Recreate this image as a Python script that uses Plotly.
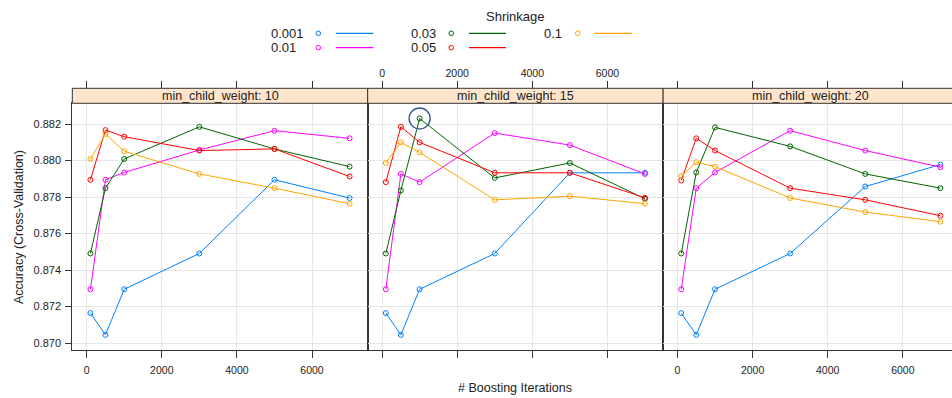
import plotly.graph_objects as go

# Tuning grid: boosting iterations x shrinkage, one panel per min_child_weight
iterations = [100, 500, 1000, 3000, 5000, 7000]
shrinkage = [0.001, 0.01, 0.03, 0.05, 0.1]
min_child_weight = [10, 15, 20]

# Cross-validated accuracy, one row per shrinkage value
acc_mcw10 = [
    [0.87164, 0.87045, 0.87295, 0.87491, 0.87895, 0.87795],
    [0.87295, 0.87895, 0.87935, 0.88058, 0.88164, 0.88122],
    [0.87491, 0.87849, 0.88009, 0.88185, 0.88064, 0.87967],
    [0.87895, 0.88167, 0.88131, 0.88055, 0.88064, 0.87913],
    [0.88009, 0.88145, 0.88051, 0.87927, 0.87849, 0.87764],
]
acc_mcw15 = [
    [0.87164, 0.87045, 0.87295, 0.87491, 0.87933, 0.87933],
    [0.87295, 0.87927, 0.87882, 0.88151, 0.88085, 0.87927],
    [0.87491, 0.87836, 0.88231, 0.87905, 0.87987, 0.87791],
    [0.87882, 0.88185, 0.88100, 0.87933, 0.87933, 0.87796],
    [0.87987, 0.88100, 0.88045, 0.87785, 0.87805, 0.87764],
]
acc_mcw20 = [
    [0.87164, 0.87045, 0.87295, 0.87491, 0.87858, 0.87978],
    [0.87295, 0.87849, 0.87935, 0.88164, 0.88055, 0.87964],
    [0.87491, 0.87935, 0.88182, 0.88078, 0.87927, 0.87849],
    [0.87891, 0.88122, 0.88055, 0.87849, 0.87785, 0.87698],
    [0.87915, 0.87991, 0.87967, 0.87795, 0.87718, 0.87665],
]
panels = [acc_mcw10, acc_mcw15, acc_mcw20]

x_ticks = [0, 2000, 4000, 6000]
y_ticks = [0.870, 0.872, 0.874, 0.876, 0.878, 0.880, 0.882]

colors = ["#0080ff", "#ff00ff", "#006400", "#ff0000", "#ffa500"]
strip_fill = "#ffe5cc"
frame = "#333333"
grid = "#e6e6e6"
text_col = "#222222"
FONT = "Liberation Sans, Arial, sans-serif"

W, H = 952, 398


def fx(px):
    return px / W


def fy(px):
    return 1 - px / H


panel_left, panel_w = 72.3, 295.4
plot_top, plot_bottom, strip_top = 103.3, 350.0, 88.3

# Axis limits padded by 7% of the data span on each side
xpad = 0.07 * (max(iterations) - min(iterations))
x_range = [min(iterations) - xpad, max(iterations) + xpad]
all_vals = [v for p in panels for row in p for v in row]
ypad = 0.07 * (max(all_vals) - min(all_vals))
y_range = [min(all_vals) - ypad, max(all_vals) + ypad]

fig = go.Figure()
layout = dict(
    width=W, height=H, margin=dict(l=0, r=0, t=0, b=0), autosize=False,
    paper_bgcolor="white", plot_bgcolor="white", showlegend=False,
    font=dict(family=FONT, color=text_col),
)
shapes, annotations = [], []

for i, (mcw, acc) in enumerate(zip(min_child_weight, panels)):
    n = i + 1
    left = panel_left + i * panel_w
    right = left + panel_w
    vis_right = min(right, W)
    frac = (vis_right - left) / panel_w
    xr = [x_range[0], x_range[0] + frac * (x_range[1] - x_range[0])]
    xa, ya = f"x{n}", f"y{n}"

    layout[f"xaxis{n}"] = dict(
        domain=[fx(left), fx(vis_right)], range=xr, anchor=ya,
        tickvals=x_ticks, ticks="outside", ticklen=7, tickcolor=frame,
        showticklabels=(i != 1), tickfont=dict(size=10.5, color=text_col),
        ticklabelstandoff=3,
        showline=True, linecolor=frame, linewidth=1, mirror=True,
        showgrid=True, gridcolor=grid, zeroline=False,
    )
    layout[f"yaxis{n}"] = dict(
        domain=[fy(plot_bottom), fy(plot_top)], range=y_range, anchor=xa,
        tickvals=y_ticks, tickformat=".3f",
        ticks="outside" if i == 0 else "", ticklen=6, tickcolor=frame,
        showticklabels=(i == 0), tickfont=dict(size=11, color=text_col),
        ticklabelstandoff=2,
        showline=True, linecolor=frame, linewidth=1, mirror=(i < 2),
        showgrid=True, gridcolor=grid, zeroline=False,
    )
    # Tick marks above the strip (labels only on the middle panel)
    layout[f"xaxis{n + 3}"] = dict(
        overlaying=xa, anchor="free", position=fy(strip_top), side="top",
        range=xr, tickvals=x_ticks, ticks="outside", ticklen=7, tickcolor=frame,
        showticklabels=(i == 1), tickfont=dict(size=10.5, color=text_col),
        showline=False, showgrid=False, zeroline=False,
    )
    fig.add_trace(go.Scatter(x=[None], y=[None], xaxis=f"x{n + 3}", yaxis=ya,
                             showlegend=False, hoverinfo="skip"))

    # Strip header
    shapes.append(dict(type="rect", xref="paper", yref="paper",
                       x0=fx(left), x1=fx(right), y0=fy(plot_top), y1=fy(strip_top),
                       fillcolor=strip_fill, line=dict(color=frame, width=1),
                       layer="above"))
    annotations.append(dict(xref="paper", yref="paper", x=fx((left + right) / 2),
                            y=fy((plot_top + strip_top) / 2 + 0.5),
                            text=f"min_child_weight: {mcw}", showarrow=False,
                            xanchor="center", yanchor="middle",
                            font=dict(size=12.5, color=text_col)))

    for s, vals, col in zip(shrinkage, acc, colors):
        fig.add_trace(go.Scatter(
            x=iterations, y=vals, mode="lines+markers", name=str(s),
            xaxis=xa, yaxis=ya, cliponaxis=False,
            line=dict(color=col, width=1),
            marker=dict(symbol="circle-open", size=5, color=col,
                        line=dict(color=col, width=1)),
        ))

# Highlight the best tuning combination
best = max(((v, i, k, j) for i, p in enumerate(panels)
            for k, row in enumerate(p) for j, v in enumerate(row)))
bv, bi, bk, bj = best
fig.add_trace(go.Scatter(
    x=[iterations[bj]], y=[bv], mode="markers", xaxis=f"x{bi + 1}", yaxis=f"y{bi + 1}",
    marker=dict(symbol="circle-open", size=21, color="#3b5998",
                line=dict(color="#3b5998", width=1.4)),
    hoverinfo="skip", cliponaxis=False,
))

# Key: title plus a 3-column grid of marker / line samples
annotations.append(dict(xref="paper", yref="paper", x=fx(515), y=fy(16.7),
                        text="Shrinkage", showarrow=False, xanchor="center",
                        yanchor="middle", font=dict(size=13, color=text_col)))
col_label_x = [269, 409.3, 542.3]
col_marker_x = [318.3, 451.3, 577.7]
col_line_x = [(336, 373.3), (469, 506), (594.3, 631.7)]
row_y = [33.3, 47.7]
r_px = 2.3
for k, (s, col) in enumerate(zip(shrinkage, colors)):
    c, r = k // 2, k % 2
    yy = row_y[r]
    annotations.append(dict(xref="paper", yref="paper", x=fx(col_label_x[c]), y=fy(yy),
                            text=str(s), showarrow=False, xanchor="left",
                            yanchor="middle", font=dict(size=13, color=text_col)))
    mx = col_marker_x[c]
    shapes.append(dict(type="circle", xref="paper", yref="paper",
                       x0=fx(mx - r_px), x1=fx(mx + r_px),
                       y0=fy(yy + r_px), y1=fy(yy - r_px),
                       line=dict(color=col, width=1)))
    lx0, lx1 = col_line_x[c]
    shapes.append(dict(type="line", xref="paper", yref="paper",
                       x0=fx(lx0), x1=fx(lx1), y0=fy(yy), y1=fy(yy),
                       line=dict(color=col, width=1.3)))

# Axis titles
annotations.append(dict(xref="paper", yref="paper", x=fx(19), y=fy(227),
                        text="Accuracy (Cross-Validation)", showarrow=False,
                        textangle=-90, xanchor="center", yanchor="middle",
                        font=dict(size=12.5, color=text_col)))
annotations.append(dict(xref="paper", yref="paper", x=fx(515), y=fy(388),
                        text="# Boosting Iterations", showarrow=False,
                        xanchor="center", yanchor="middle",
                        font=dict(size=12.5, color=text_col)))

layout["shapes"] = shapes
layout["annotations"] = annotations
fig.update_layout(**layout)
fig.write_html("out.html")
